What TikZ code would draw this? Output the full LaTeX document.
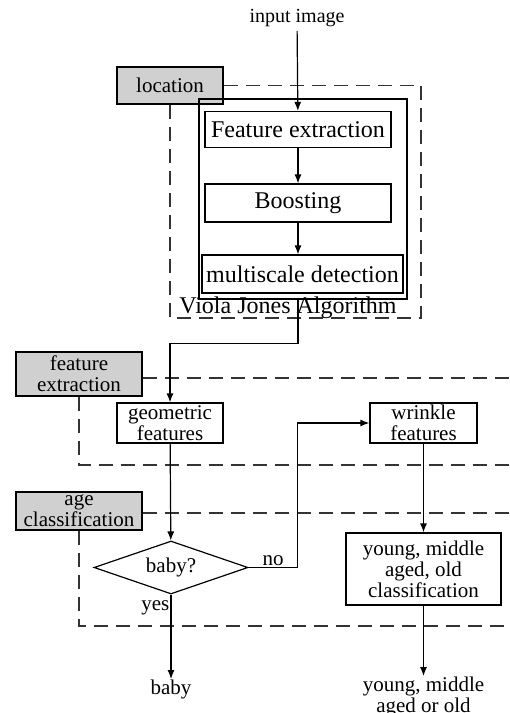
\documentclass[tikz,border=0pt]{standalone}
\usepackage{fontspec}
\setmainfont{Liberation Serif}
\usepackage{tikz}
\usetikzlibrary{shapes,arrows,arrows.meta}
\usetikzlibrary{positioning,shapes.geometric}
\definecolor{tagGray}{RGB}{208,208,208}
\newcommand{\smalltxt}{\fontsize{21}{21}\selectfont}
\newcommand{\bigtxt}{\fontsize{24}{24}\selectfont}
\tikzstyle{block} = [draw, rectangle, line width=1.2pt, inner sep=0pt,
    minimum width=186pt, minimum height=36pt, font=\bigtxt]
\tikzstyle{box} = [draw, rectangle, line width=1.2pt, inner sep=0pt, align=center,
    font=\smalltxt, minimum width=106pt, minimum height=40pt]
\tikzstyle{tagbox} = [box, fill=tagGray, minimum width=126pt]
\tikzstyle{decision} = [draw, diamond, line width=1.2pt, aspect=2.9, inner sep=0pt,
    minimum width=154pt, minimum height=53pt, font=\smalltxt]
\tikzstyle{txt} = [align=center, font=\smalltxt, inner sep=1pt]
\tikzstyle{flow} = [draw, line width=1.2pt, -{Latex[length=9pt,width=7pt]}]
\tikzstyle{lane} = [draw, line width=1.2pt, black!80, dash pattern=on 14pt off 8pt]

\begin{document}
\begin{tikzpicture}[x=1pt, y=-1pt, node distance=70pt, auto]
  \useasboundingbox (0,0) rectangle (510,713);
  % location stage
  \node [txt, font=\fontsize{20}{20}\selectfont, inner sep=4pt] (input) at (297,18) {input image};
  \node [tagbox, minimum width=106pt, minimum height=37pt] (loc) at (170,85.5) {location};
  \node [draw, line width=1.2pt, minimum width=208pt, minimum height=200pt] (vj) at (303,199) {};
  \node [block] (fe) at (298,129.5) {Feature extraction};
  \node [block, below of=fe, node distance=73.5pt, minimum height=38pt] (boost) {Boosting};
  \node [block, below of=boost, node distance=71pt, xshift=4.5pt,
    minimum width=201pt, minimum height=38pt] (ms) {multiscale detection};
  \node [font=\bigtxt, inner sep=0pt] (vjname) at (288,308) {Viola Jones Algorithm};
  \draw [lane] (loc.east) -| (421,318) -| (loc.south);
  % feature extraction stage
  \node [tagbox, minimum height=44pt] (fx) at (79,374) {feature\\extraction};
  \node [box] (geo) at (170,423) {geometric\\features};
  \node [box, minimum width=107pt] (wr) at (423.5,423) {wrinkle\\features};
  \draw [lane] ([yshift=-4pt]fx.east) -- (510,378);
  \draw [lane] (fx.south) |- (510,465);
  % age classification stage
  \node [tagbox, minimum height=38pt] (ac) at (79,511) {age\\classification};
  \node [decision] (dec) at (171,567.5) {baby?};
  \node [box, minimum width=155pt, minimum height=72pt] (yc) at (423.5,569)
    {young, middle\\aged, old\\classification};
  \draw [lane] ([yshift=-2pt]ac.east) -- (510,513);
  \draw [lane] (ac.south) |- (510,626);
  % results
  \node [txt, anchor=north] (baby) at (171,679) {baby};
  \node [txt, anchor=north] (yres) at (423.5,676) {young, middle\\aged or old};
  \draw [flow] (input) -- (fe);
  \draw [flow] (fe) -- (boost);
  \draw [flow] (boost.south) -- (boost.south |- ms.north);
  \draw [flow] (fe |- vj.south) -- ++(0,44) -| (geo.north);
  \draw [flow] (geo) -- (dec);
  \draw [flow] (dec.east) -- ++(49,0) node [txt, above, pos=0.5] {no} |- (wr.west);
  \draw [flow] (dec) -- node [txt, left, pos=0.16] {yes} (baby);
  \draw [flow] (wr) -- (yc);
  \draw [flow] (yc) -- (yres);
\end{tikzpicture}
\end{document}
